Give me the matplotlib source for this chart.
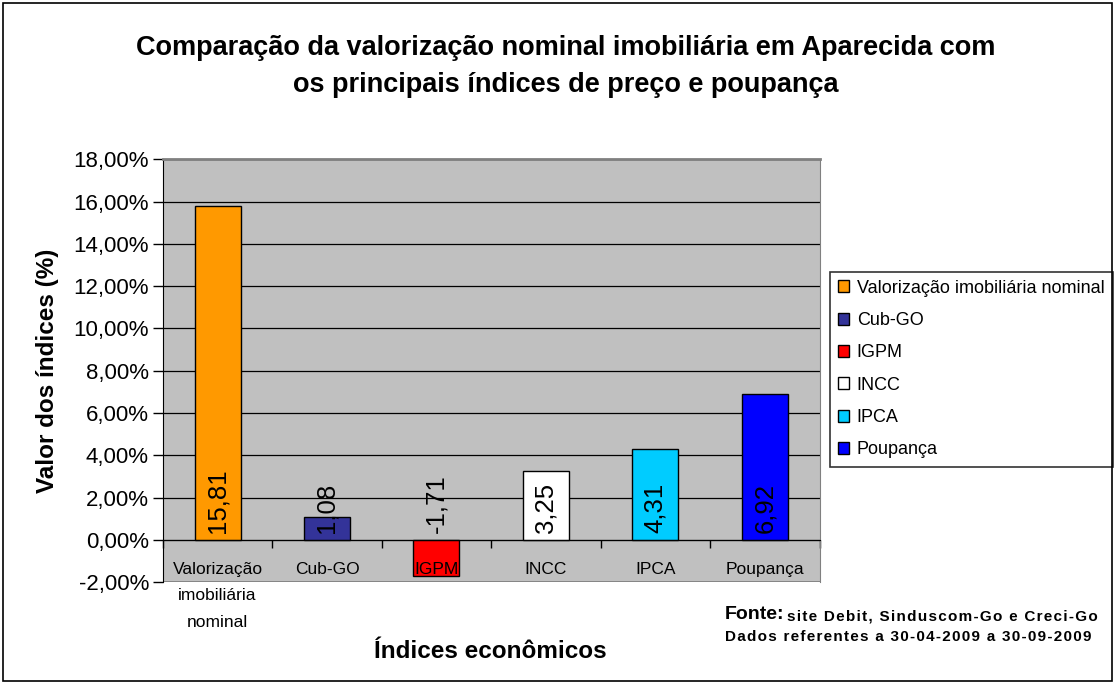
import numpy as np
import matplotlib.pyplot as plt
from matplotlib.patches import Rectangle

plt.rcParams['font.family'] = ['Liberation Sans', 'DejaVu Sans']

categories = ['Valorização\nimobiliária\nnominal', 'Cub-GO', 'IGPM', 'INCC', 'IPCA', 'Poupança']
legend_names = ['Valorização imobiliária nominal', 'Cub-GO', 'IGPM', 'INCC', 'IPCA', 'Poupança']
values = [15.81, 1.08, -1.71, 3.25, 4.31, 6.92]
value_labels = ['15,81', '1,08', '-1,71', '3,25', '4,31', '6,92']
colors = ['#FF9900', '#333399', '#FF0000', '#FFFFFF', '#00CCFF', '#0000FF']
yticks = np.arange(-2, 19, 2)


def spaced(s):
    # letras espaçadas como no original
    return '\u200a'.join(s)


fig = plt.figure(figsize=(11.15, 6.84), dpi=100)
fig.patches.append(Rectangle((0.003, 0.004), 0.994, 0.991, transform=fig.transFigure,
                             fill=False, edgecolor='black', linewidth=1.2))

ax = fig.add_axes([0.146, 0.149, 0.589, 0.618])
ax.set_facecolor('#C0C0C0')

x = np.arange(len(values))
for i in range(len(values)):
    ax.bar(x[i], values[i], width=0.42, color=colors[i], edgecolor='black',
           linewidth=1, label=legend_names[i], zorder=1.5)
    ax.text(x[i], 0.3, value_labels[i], rotation=90, ha='center', va='bottom',
            fontsize=18.5, zorder=5)

for y in yticks:
    if y > -2:
        ax.axhline(y, color='black', linewidth=0.9, zorder=0.5)

ax.set_xlim(-0.5, len(values) - 0.5)
ax.set_ylim(-2, 18)
ax.set_yticks(yticks)
ax.set_yticklabels([('%.2f%%' % v).replace('.', ',') for v in yticks])
ax.yaxis.set_tick_params(labelsize=16, length=7, width=1, pad=3)

ax.spines['bottom'].set_position(('data', 0))
ax.spines['bottom'].set_color('black')
ax.spines['left'].set_color('black')
ax.spines['top'].set_color('#808080')
ax.spines['top'].set_linewidth(2)
ax.spines['right'].set_color('#808080')
ax.axhline(-2, color='#808080', linewidth=2, zorder=2)

ax.set_xticks(np.arange(len(values) + 1) - 0.5)
ax.set_xticklabels([])
ax.tick_params(axis='x', which='major', direction='out', length=6, width=1)
ax.set_xticks(x, minor=True)
ax.set_xticklabels(categories, minor=True, fontsize=12.5, linespacing=1.95, va='top')
ax.tick_params(axis='x', which='minor', length=0, pad=16)

fig.text(0.507, 0.930, 'Comparação da valorização nominal imobiliária em Aparecida com',
         ha='center', va='center', fontsize=19.5, fontweight='bold')
fig.text(0.507, 0.876, 'os principais índices de preço e poupança',
         ha='center', va='center', fontsize=19.5, fontweight='bold')
fig.text(0.043, 0.458, 'Valor dos índices (%)', rotation=90, ha='center', va='center',
         fontsize=17.5, fontweight='bold')
fig.text(0.440, 0.047, 'Índices econômicos', ha='center', va='center',
         fontsize=17.5, fontweight='bold')

fig.text(0.650, 0.102, 'Fonte:', ha='left', va='center', fontsize=14, fontweight='bold')
fig.text(0.706, 0.099, spaced('site Debit, Sinduscom-Go e Creci-Go'),
         ha='left', va='center', fontsize=11, fontweight='bold')
fig.text(0.650, 0.068, spaced('Dados referentes a 30-04-2009 a 30-09-2009'),
         ha='left', va='center', fontsize=11, fontweight='bold')

leg = ax.legend(loc='center left', bbox_to_anchor=(0.744, 0.4605), bbox_transform=fig.transFigure,
                fontsize=13, frameon=True, fancybox=False, edgecolor='black',
                handlelength=0.65, handleheight=0.65, handletextpad=0.4,
                labelspacing=0.85, borderpad=0.45, borderaxespad=0)
leg.get_frame().set_linewidth(1.2)

fig.savefig('out.png', dpi=100, facecolor='white')
